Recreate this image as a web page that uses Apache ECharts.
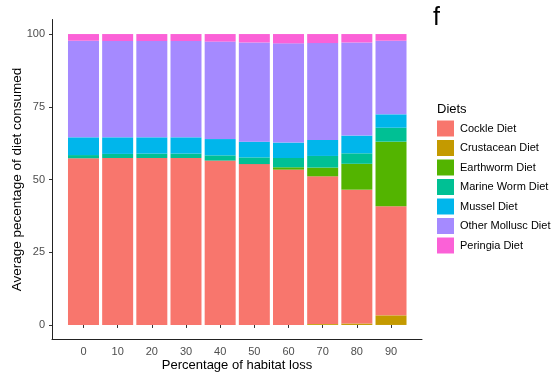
<!DOCTYPE html>
<html>
<head>
<meta charset="utf-8">
<script src="https://cdn.jsdelivr.net/npm/echarts@6/dist/echarts.min.js"></script>
<style>html,body{margin:0;padding:0;background:#fff;}#c{width:552px;height:380px;}</style>
</head>
<body>
<div id="c"></div>
<script>
const habitatLoss = ['0', '10', '20', '30', '40', '50', '60', '70', '80', '90'];
const yTicks = [0, 25, 50, 75, 100];
// legend order (alphabetical, as in the reference)
const dietNames = ['Cockle Diet', 'Crustacean Diet', 'Earthworm Diet', 'Marine Worm Diet', 'Mussel Diet', 'Other Mollusc Diet', 'Peringia Diet'];
// stacking order, bottom to top, as drawn in the reference
const stackOrder = ['Crustacean Diet', 'Cockle Diet', 'Earthworm Diet', 'Marine Worm Diet', 'Mussel Diet', 'Other Mollusc Diet', 'Peringia Diet'];
const cockle       = [57.3, 57.4, 57.4, 57.4, 56.5, 55.3, 53.4, 50.8, 46.0, 37.5];
const crustacean   = [0, 0, 0, 0, 0, 0, 0, 0.3, 0.5, 3.3];
const earthworm    = [0, 0, 0, 0, 0, 0, 0.8, 3.0, 8.9, 22.2];
const marineWorm   = [1.1, 1.4, 1.5, 1.5, 1.8, 2.3, 3.2, 4.0, 3.6, 4.8];
const mussel       = [6.1, 5.7, 5.6, 5.6, 5.6, 5.4, 5.3, 5.5, 6.1, 4.6];
const otherMollusc = [33.2, 33.1, 33.1, 33.1, 33.5, 34.1, 34.1, 33.3, 32.0, 25.3];
const peringia     = [2.3, 2.4, 2.4, 2.4, 2.6, 2.9, 3.2, 3.1, 2.9, 2.3];

const valuesByName = {
  'Cockle Diet': cockle, 'Crustacean Diet': crustacean, 'Earthworm Diet': earthworm,
  'Marine Worm Diet': marineWorm, 'Mussel Diet': mussel, 'Other Mollusc Diet': otherMollusc,
  'Peringia Diet': peringia
};
const colorByName = {
  'Cockle Diet': '#F8766D', 'Crustacean Diet': '#C49A00', 'Earthworm Diet': '#53B400',
  'Marine Worm Diet': '#00C094', 'Mussel Diet': '#00B6EB', 'Other Mollusc Diet': '#A58AFF',
  'Peringia Diet': '#FB61D7'
};

const font = 'Liberation Sans, Arial, sans-serif';
const chart = echarts.init(document.getElementById('c'));
chart.setOption({
  animation: false,
  textStyle: { fontFamily: font },
  grid: [
    { left: 52, right: 130, top: 19.5, bottom: 40.5 },
    { left: 66.4, right: 143.9, top: 19.5, bottom: 40.5 }
  ],
  xAxis: [
    {
      gridIndex: 0, type: 'value', min: 0, max: 1,
      name: 'Percentage of habitat loss', nameLocation: 'middle', nameGap: 19, nameMoveOverlap: false,
      nameTextStyle: { fontSize: 13, color: '#000', fontFamily: font },
      axisLine: { show: true, onZero: false, lineStyle: { color: '#222', width: 1 } },
      axisTick: { show: false }, axisLabel: { show: false }, splitLine: { show: false }
    },
    {
      gridIndex: 1, type: 'category', data: habitatLoss, boundaryGap: true,
      axisLine: { show: false },
      axisTick: { show: true, length: 3, alignWithLabel: true, lineStyle: { color: '#333' } },
      axisLabel: { color: '#4D4D4D', fontSize: 11, margin: 7, fontFamily: font },
      splitLine: { show: false }
    }
  ],
  yAxis: [
    {
      gridIndex: 0, type: 'value', min: -5, max: 105,
      name: 'Average pecentage of diet consumed', nameLocation: 'middle', nameGap: 28, nameMoveOverlap: false,
      nameTextStyle: { fontSize: 13.5, color: '#000', fontFamily: font },
      axisLine: { show: true, lineStyle: { color: '#222', width: 1 } },
      axisTick: { show: true, length: 3, lineStyle: { color: '#333' }, customValues: yTicks },
      axisLabel: { color: '#4D4D4D', fontSize: 11, margin: 7, customValues: yTicks, fontFamily: font },
      splitLine: { show: false }
    },
    {
      gridIndex: 1, type: 'value', min: -5, max: 105, show: false,
      splitLine: { show: false }
    }
  ],
  legend: {
    orient: 'vertical', left: 437, top: 120.5, padding: 0,
    itemWidth: 17, itemHeight: 16, itemGap: 3.5,
    icon: 'rect',
    textStyle: { fontSize: 11, color: '#000', padding: [0, 0, 0, 1], fontFamily: font },
    data: dietNames
  },
  graphic: [
    { type: 'text', left: 437, top: 103, style: { text: 'Diets', fontSize: 13, fill: '#000', fontFamily: font } },
    { type: 'text', left: 433, top: 6, style: { text: 'f', fontSize: 25, fill: '#000', fontFamily: font } }
  ],
  series: stackOrder.map((n) => ({
    name: n, type: 'bar', stack: 'all', barWidth: 31,
    xAxisIndex: 1, yAxisIndex: 1,
    itemStyle: { color: colorByName[n] },
    data: valuesByName[n]
  }))
});
</script>
</body>
</html>
